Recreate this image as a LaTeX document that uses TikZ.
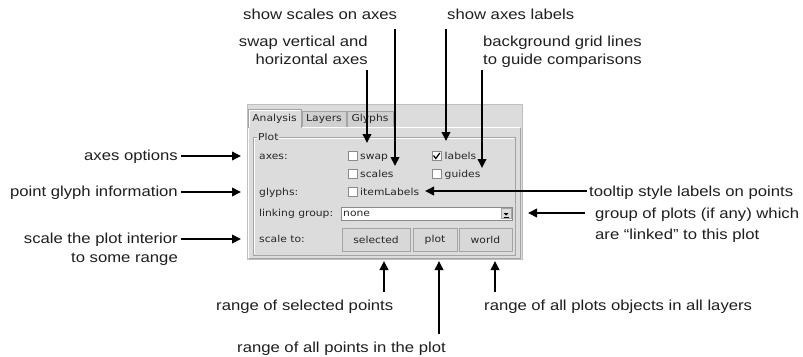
\documentclass[tikz,border=0pt]{standalone}
\usepackage{fontspec}
\usetikzlibrary{arrows.meta}
\newfontfamily\annotfont[FakeStretch=1.15]{Liberation Sans}
\newfontfamily\guifnt[FakeStretch=1.12]{DejaVu Sans}
\definecolor{guibg}{HTML}{DCDCDC}
\definecolor{tabdark}{HTML}{D0D0D0}
\definecolor{edge}{HTML}{A4A4A4}
\definecolor{edgedark}{HTML}{8A8A8A}
\definecolor{btnbg}{HTML}{D8D8D8}
\begin{document}
\begin{tikzpicture}[x=1pt,y=-1pt,
  ann/.style={font=\annotfont\fontsize{14.5pt}{17pt}\selectfont, inner sep=0pt, text=black!88},
  gui/.style={font=\guifnt\fontsize{9.6pt}{11pt}\selectfont, inner sep=0pt, text=black!85},
  arr/.style={draw=black, line width=2pt, -{Triangle[length=9pt,width=8.5pt]}},
  cbox/.style={draw=edgedark, fill=white, line width=0.6pt, minimum size=9pt, inner sep=0pt},
  btn/.style={draw=edge, fill=btnbg, line width=0.8pt, minimum height=23pt, inner sep=0pt,
              font=\guifnt\fontsize{9.6pt}{11pt}\selectfont, text=black!85},
  field/.style={draw=edgedark, fill=white, line width=0.6pt, inner sep=0pt}
]
\useasboundingbox (0,0) rectangle (803,356);
\fill[white] (0,0) rectangle (803,356);

% ---------- panel ----------
\fill[guibg] (247,104) rectangle (522,259);
\draw[edge!70, line width=0.5pt] (247,104) rectangle (522,259);
% tab frame
\draw[white, line width=0.8pt] (248.5,258) -- (248.5,127.5) -- (520,127.5);
\draw[edge, line width=0.8pt] (248.5,258) -- (520,258) -- (520,127.5);
% tabs
\fill[tabdark] (302,111) rectangle (346,127);
\draw[edge, line width=0.7pt] (302,127) -- (302,111) -- (346,111) -- (346,127);
\fill[tabdark] (347,111) rectangle (393,127);
\draw[edge, line width=0.7pt] (347,127) -- (347,111) -- (393,111) -- (393,127);
\fill[guibg] (248,109) rectangle (301,128);
\draw[edge, line width=0.7pt] (248.5,128) -- (248.5,109) -- (301,109) -- (301,127.5);
\draw[white, line width=0.7pt] (249.5,127) -- (249.5,110) -- (300,110);
\node[gui, anchor=base] (tabA) at (274.5,121.5) {Analysis};
\node[gui, anchor=base] (tabL) at (324,121.5) {Layers};
\node[gui, anchor=base] (tabG) at (370,121.5) {Glyphs};

% group box Plot
\draw[edge, line width=0.7pt] (253,137) rectangle (515,255);
\draw[white, line width=0.7pt] (254,254) -- (254,138) -- (514,138);
\node[gui, anchor=west, fill=guibg, inner xsep=1pt, inner ysep=1pt] (plotlbl) at (257,137) {Plot};

% rows
\node[gui, anchor=base west] (axesL) at (259,159.5) {axes:};
\node[gui, anchor=base west] (glyL) at (259,195.5) {glyphs:};
\node[gui, anchor=base west] (linkL) at (259,216.5) {linking group:};
\node[gui, anchor=base west] (scaleL) at (259,242.5) {scale to:};

\node[cbox] (cbswap) at (352.5,156) {};
\node[gui, anchor=base west] (swapT) at (360,159.5) {swap};
\node[cbox] (cblab) at (436.5,156) {};
\draw[black, line width=1.2pt] (433.5,155.5) -- (435.8,158.5) -- (439.8,153);
\node[gui, anchor=base west] (labT) at (444.5,159.5) {labels};
\node[cbox] (cbscl) at (352.5,174) {};
\node[gui, anchor=base west] (sclT) at (360,177.5) {scales};
\node[cbox] (cbgd) at (436.5,174) {};
\node[gui, anchor=base west] (gdT) at (444.5,177.5) {guides};
\node[cbox] (cbitem) at (352.5,192) {};
\node[gui, anchor=base west, inner xsep=1pt] (itemT) at (359,195.5) {itemLabels};

% linking field
\node[field, minimum width=171pt, minimum height=13pt] (lfield) at (426.5,213.5) {};
\node[gui, anchor=base west] (noneT) at (343,216.8) {none};
\node[draw=edge, fill=guibg, line width=0.5pt, minimum width=10pt, minimum height=10pt, inner sep=0pt] (dd) at (506,213.5) {};
\fill[black] (503.5,213) -- (508.5,213) -- (506,215.5) -- cycle;
\draw[black, line width=0.6pt] (503.5,217) -- (508.5,217);

% buttons
\node[btn, minimum width=68pt] (bsel) at (376,239.5) {selected};
\node[btn, minimum width=44pt] (bplot) at (435,239.5) {plot};
\node[btn, minimum width=53pt] (bworld) at (485.5,239.5) {world};

% ---------- annotations top ----------
\node[ann, anchor=base west] (tscales) at (243,19.5) {show scales on axes};
\node[ann, anchor=base west] (tlabels) at (447,19.5) {show axes labels};
\node[ann, anchor=base east] (tswap1) at (368,46) {swap vertical and};
\node[ann, anchor=base east] (tswap2) at (368,64.5) {horizontal axes};
\node[ann, anchor=base west] (tguide1) at (483,46) {background grid lines};
\node[ann, anchor=base west] (tguide2) at (483,64.5) {to guide comparisons};

\coordinate (sw0) at (367,70);   \coordinate (sw1) at (367,143);
\coordinate (sc0) at (395,29);   \coordinate (sc1) at (395,166);
\coordinate (lb0) at (446,29);   \coordinate (lb1) at (446,141);
\coordinate (gd0) at (482,70);   \coordinate (gd1) at (482,168);
\draw[arr] (sw0) -- (sw1);
\draw[arr] (sc0) -- (sc1);
\draw[arr] (lb0) -- (lb1);
\draw[arr] (gd0) -- (gd1);

% ---------- annotations left ----------
\node[ann, anchor=base east] (taxes) at (178,160.5) {axes options};
\node[ann, anchor=base east] (tglyph) at (178,196.5) {point glyph information};
\node[ann, anchor=base east] (tscale1) at (178,243.5) {scale the plot interior};
\node[ann, anchor=base east] (tscale2) at (178,262) {to some range};
\coordinate (la) at (241,156);
\coordinate (lg) at (241,192);
\coordinate (ls) at (241,239);
\draw[arr] (181,156) coordinate (la0) -- (la);
\draw[arr] (181,192) coordinate (lg0) -- (lg);
\draw[arr] (181,239) coordinate (ls0) -- (ls);

% ---------- annotations right ----------
\node[ann, anchor=base west] (ttip) at (589,196) {tooltip style labels on points};
\node[ann, anchor=base west] (tgrp1) at (595,218) {group of plots (if any) which};
\node[ann, anchor=base west] (tgrp2) at (595,239.5) {are “linked” to this plot};
\coordinate (tt0) at (587,191);  \coordinate (tt1) at (425,191);
\coordinate (gp0) at (585,213);  \coordinate (gp1) at (528,213);
\draw[arr] (tt0) -- (tt1);
\draw[arr] (gp0) -- (gp1);

% ---------- annotations bottom ----------
\node[ann, anchor=base west] (tsel) at (216,310.5) {range of selected points};
\node[ann, anchor=base west] (tall) at (484,310.5) {range of all plots objects in all layers};
\node[ann, anchor=base east] (tplot) at (446,352) {range of all points in the plot};
\coordinate (bs0) at (384,292);  \coordinate (bs1) at (384,261);
\coordinate (bp0) at (439,334);  \coordinate (bp1) at (439,261);
\coordinate (bw0) at (495,292);  \coordinate (bw1) at (495,261);
\draw[arr] (bs0) -- (bs1);
\draw[arr] (bp0) -- (bp1);
\draw[arr] (bw0) -- (bw1);
\end{tikzpicture}
\end{document}
